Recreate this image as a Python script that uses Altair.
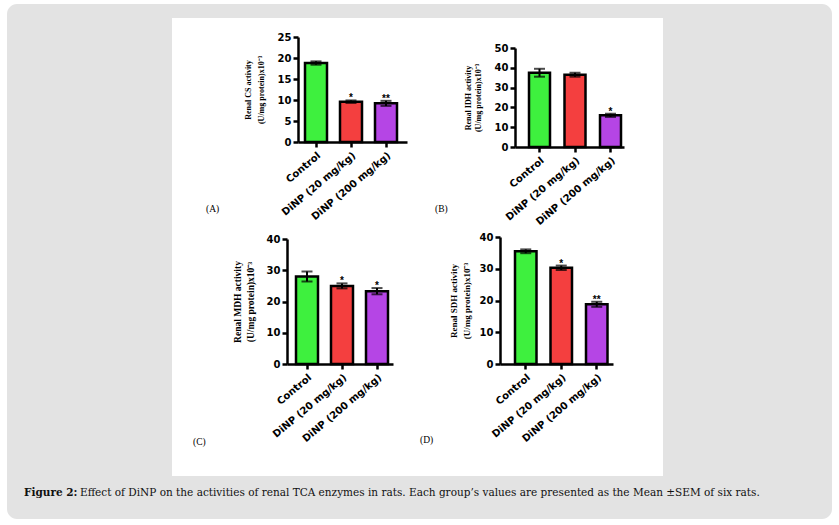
import altair as alt
import pandas as pd

# Treatment groups shared by all four panels
groups = ["Control", "DiNP (20 mg/kg)", "DiNP (200 mg/kg)"]
bar_colors = ["#3ef03e", "#f43f3f", "#b545e5"]

# (A) Citrate synthase
cs_mean = [18.8, 9.6, 9.2]
cs_sem = [0.4, 0.3, 0.6]
cs_sig = ["", "*", "**"]

# (B) Isocitrate dehydrogenase
idh_mean = [37.5, 36.5, 16.0]
idh_sem = [2.0, 1.0, 0.8]
idh_sig = ["", "", "*"]

# (C) Malate dehydrogenase
mdh_mean = [28.0, 25.0, 23.3]
mdh_sem = [1.6, 0.8, 1.0]
mdh_sig = ["", "*", "*"]

# (D) Succinate dehydrogenase
sdh_mean = [35.5, 30.3, 18.8]
sdh_sem = [0.6, 0.7, 0.8]
sdh_sig = ["", "*", "**"]

caption_head = "Figure 2:"
caption_body = ("Effect of DiNP on the activities of renal TCA enzymes in rats. "
                "Each group’s values are presented as the Mean ±SEM of six rats.")

W, H = 839, 525
BLACK = "#000000"
TICK_FONT = "DejaVu Sans"


def panel(means, sems, sig, ymax, ystep, title, layout):
    df = pd.DataFrame({"group": groups, "mean": means, "sem": sems, "sig": sig})
    x0, x1 = layout["xr"]
    step, bw, first = layout["step"], layout["bw"], layout["first"]
    span = x1 - x0
    p_in = 1 - bw / step
    p_out = (span / step - 3 + p_in) / 2
    align = (first - x0) / (span - step * (3 - p_in))
    xscale = alt.Scale(domain=groups, range=[x0, x1], paddingInner=p_in,
                       paddingOuter=p_out, align=align)
    yzero, ytop = layout["yr"]
    yscale = alt.Scale(domain=[0, ymax], range=[yzero, ytop], nice=False, zero=True)

    xaxis = alt.Axis(orient="bottom", offset=yzero - H, title=None, zindex=2,
                     domainColor=BLACK, domainWidth=2.5, tickColor=BLACK,
                     tickWidth=2.5, tickSize=5, labelAngle=-40, labelAlign="right",
                     labelBaseline="top", labelFont=TICK_FONT,
                     labelFontWeight="bold", labelFontSize=10, labelColor=BLACK,
                     labelPadding=3, grid=False)
    yaxis = alt.Axis(orient="left", offset=-x0, values=list(range(0, ymax + 1, ystep)),
                     title=title, titleFont="Liberation Serif", titleFontWeight="bold",
                     titleFontSize=layout["tsize"], titleLineHeight=layout["tlh"],
                     titleColor=BLACK, titlePadding=layout["tpad"], zindex=2,
                     domainColor=BLACK, domainWidth=2.5, tickColor=BLACK,
                     tickWidth=2.5, tickSize=5, labelFont=TICK_FONT,
                     labelFontWeight="bold", labelFontSize=10, labelColor=BLACK,
                     labelPadding=2, grid=False)

    base = alt.Chart(df).transform_calculate(
        lo="datum.mean - datum.sem", hi="datum.mean + datum.sem")

    xs = alt.X("group:N", sort=groups, scale=xscale, axis=xaxis)

    def ys(field):
        return alt.Y(field, type="quantitative", scale=yscale, axis=yaxis)

    bars = base.mark_bar(stroke=BLACK, strokeWidth=2.5).encode(
        x=xs, y=ys("mean"),
        color=alt.Color("group:N", scale=alt.Scale(domain=groups, range=bar_colors),
                        legend=None),
    )
    err = base.mark_rule(color=BLACK, strokeWidth=2).encode(
        x=xs, y=ys("lo"), y2="hi:Q")
    cap_hi = base.mark_tick(color=BLACK, thickness=2, size=11).encode(
        x=xs, y=ys("hi"))
    cap_lo = base.mark_tick(color=BLACK, thickness=2, size=11).encode(
        x=xs, y=ys("lo"))
    stars = base.mark_text(font="Liberation Sans", fontWeight="bold", fontSize=10,
                           baseline="alphabetic", dy=1, color=BLACK).encode(
        x=xs, y=ys("hi"), text="sig:N")
    return alt.layer(bars, err, cap_hi, cap_lo, stars)


def label(txt, x, y):
    return alt.Chart(alt.Data(values=[{}])).mark_text(
        text=txt, font="Liberation Serif", fontSize=9.5, align="left",
        baseline="middle", color=BLACK).encode(x=alt.value(x), y=alt.value(y))


one = alt.Data(values=[{}])
frame = alt.Chart(one).mark_rect(color="#e3e3e3", cornerRadius=10).encode(
    x=alt.value(7), x2=alt.value(832), y=alt.value(4), y2=alt.value(519))
sheet = alt.Chart(one).mark_rect(color="#ffffff").encode(
    x=alt.value(172), x2=alt.value(663), y=alt.value(18), y2=alt.value(476))
cap1 = alt.Chart(one).mark_text(
    text=caption_head, font="DejaVu Serif", fontSize=10.5, fontWeight="bold",
    align="left", baseline="alphabetic", color="#111111").encode(
    x=alt.value(24), y=alt.value(496))
cap2 = alt.Chart(one).mark_text(
    text=caption_body, font="DejaVu Serif", fontSize=10.5,
    align="left", baseline="alphabetic", color="#111111").encode(
    x=alt.value(80), y=alt.value(496))

pa = panel(cs_mean, cs_sem, cs_sig, 25, 5,
           ["Renal CS activity", "(U/mg protein)x10⁻³"],
           dict(xr=(298, 407), step=35, bw=22, first=305, yr=(142, 37),
                tsize=8, tlh=13, tpad=12))
pb = panel(idh_mean, idh_sem, idh_sig, 50, 10,
           ["Renal IDH activity", "(U/mg protein)x10⁻³"],
           dict(xr=(515, 624), step=35.5, bw=21, first=529, yr=(147, 48),
                tsize=8, tlh=9.5, tpad=12))
pc = panel(mdh_mean, mdh_sem, mdh_sig, 40, 10,
           ["Renal MDH activity", "(U/mg protein)x10⁻³"],
           dict(xr=(287, 393), step=35, bw=22, first=296, yr=(364, 239),
                tsize=9.5, tlh=13, tpad=11))
pd_ = panel(sdh_mean, sdh_sem, sdh_sig, 40, 10,
            ["Renal SDH activity", "(U/mg protein)x10⁻³"],
            dict(xr=(500, 613), step=35.5, bw=21.5, first=515, yr=(364, 237),
                 tsize=9, tlh=13, tpad=8))

chart = alt.layer(
    frame, sheet, cap1, cap2,
    pa, pb, pc, pd_,
    label("(A)", 206, 209), label("(B)", 435, 209),
    label("(C)", 193, 442), label("(D)", 420, 440),
).resolve_scale(x="independent", y="independent").resolve_axis(
    x="independent", y="independent"
).properties(
    width=W, height=H, padding=0, autosize=alt.AutoSizeParams(type="none"),
    background="#ffffff"
).configure_view(stroke=None)

chart.save("out.html", embed_options={"renderer": "svg", "actions": False})
